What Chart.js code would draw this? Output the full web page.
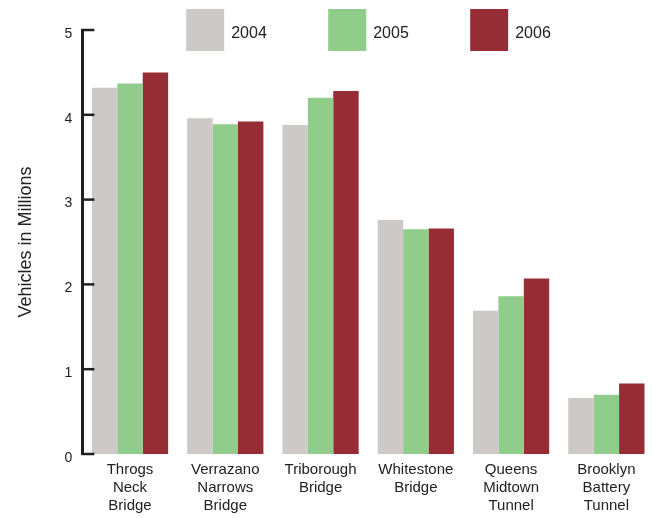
<!DOCTYPE html>
<html>
<head>
<meta charset="utf-8">
<script src="https://cdn.jsdelivr.net/npm/chart.js@4/dist/chart.umd.min.js"></script>
<style>
  html, body { margin: 0; padding: 0; background: #fff; }
  canvas { display: block; }
</style>
</head>
<body>
<canvas id="chart" width="654" height="518"></canvas>
<script>
const categories = [
  ['Throgs', 'Neck', 'Bridge'],
  ['Verrazano', 'Narrows', 'Bridge'],
  ['Triborough', 'Bridge'],
  ['Whitestone', 'Bridge'],
  ['Queens', 'Midtown', 'Tunnel'],
  ['Brooklyn', 'Battery', 'Tunnel']
]
const years = ['2004', '2005', '2006']
const values2004 = [4.32, 3.96, 3.88, 2.76, 1.69, 0.66]
const values2005 = [4.37, 3.89, 4.20, 2.65, 1.86, 0.70]
const values2006 = [4.50, 3.92, 4.28, 2.66, 2.07, 0.83]
const colors = ['#ccc9c6', '#90cc8a', '#962d35']

const FONT = "'Liberation Sans', Arial, Helvetica, sans-serif"
const INK = '#231f20'

// tick marks point into the plot, so draw them ourselves from the y scale
const innerTicks = {
  id: 'innerTicks',
  afterDatasetsDraw (chart) {
    const { ctx, chartArea, scales } = chart
    const y = scales.y
    ctx.save()
    ctx.strokeStyle = INK
    ctx.lineWidth = 2.5
    y.ticks.forEach((t, i) => {
      const py = y.getPixelForTick(i)
      ctx.beginPath()
      ctx.moveTo(chartArea.left - 1, py)
      ctx.lineTo(chartArea.left + 12, py)
      ctx.stroke()
    })
    ctx.restore()
  }
}

// legend with wide spacing, centred over the plot
const wideLegend = {
  id: 'wideLegend',
  afterDraw (chart) {
    const { ctx, chartArea } = chart
    const step = 142
    const boxW = 38
    const boxH = 42
    const total = step * (chart.data.datasets.length - 1) + 80
    let x = (chartArea.left + chartArea.right) / 2 - total / 2
    ctx.save()
    ctx.font = '16px ' + FONT
    ctx.textBaseline = 'middle'
    chart.data.datasets.forEach((ds) => {
      ctx.fillStyle = ds.backgroundColor
      ctx.fillRect(x, 9, boxW, boxH)
      ctx.fillStyle = '#222'
      ctx.fillText(ds.label, x + boxW + 7, 34)
      x += step
    })
    ctx.restore()
  }
}

const ctx = document.getElementById('chart')
// eslint-disable-next-line no-new
new Chart(ctx, {
  type: 'bar',
  data: {
    labels: categories,
    datasets: [
      { label: years[0], data: values2004, backgroundColor: colors[0] },
      { label: years[1], data: values2005, backgroundColor: colors[1] },
      { label: years[2], data: values2006, backgroundColor: colors[2] }
    ]
  },
  options: {
    responsive: false,
    animation: false,
    devicePixelRatio: 1,
    layout: { padding: { top: 30, left: 5, right: 0, bottom: -4 } },
    datasets: {
      bar: { categoryPercentage: 0.8, barPercentage: 1.0, borderWidth: 0 }
    },
    plugins: {
      legend: { display: false },
      tooltip: { enabled: false }
    },
    scales: {
      x: {
        grid: { display: false, drawTicks: false },
        border: { display: false },
        ticks: {
          color: '#222',
          padding: 7,
          maxRotation: 0,
          autoSkip: false,
          font: { family: FONT, size: 15, lineHeight: 1.2 }
        }
      },
      y: {
        min: 0,
        max: 5,
        grid: { display: false, drawTicks: false },
        border: { display: true, color: INK, width: 3 },
        ticks: {
          stepSize: 1,
          color: '#222',
          padding: 10,
          labelOffset: 4,
          font: { family: FONT, size: 14 }
        },
        title: {
          display: true,
          text: 'Vehicles in Millions',
          color: '#222',
          padding: { top: 10, bottom: 18 },
          font: { family: FONT, size: 18 }
        }
      }
    }
  },
  plugins: [innerTicks, wideLegend]
})
</script>
</body>
</html>
